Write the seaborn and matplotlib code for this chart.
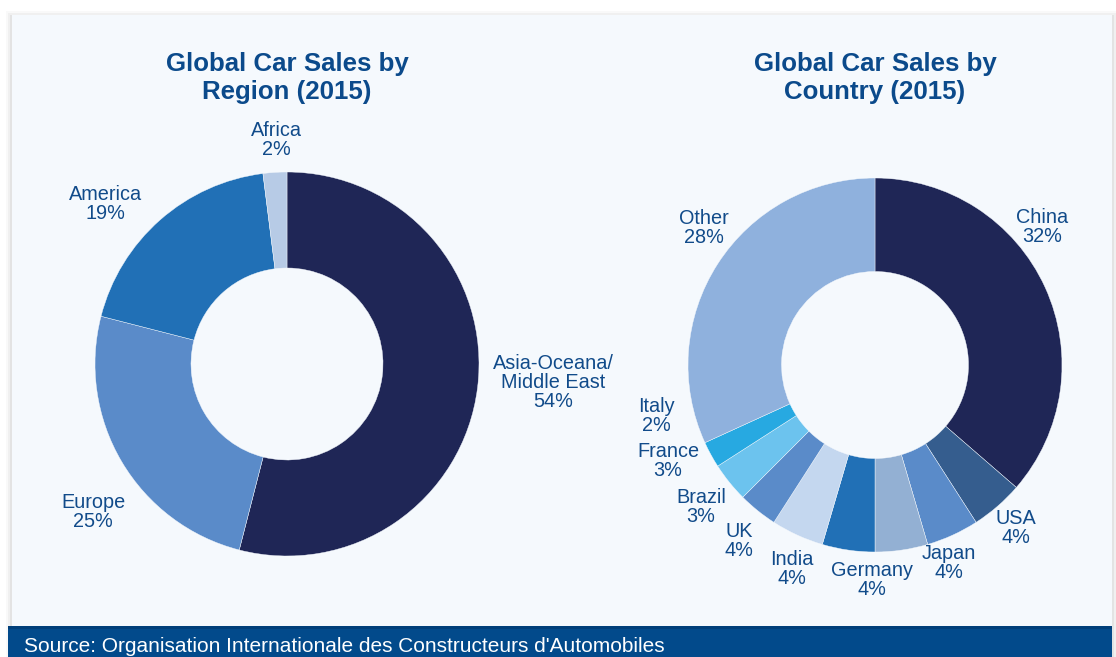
import numpy as np
import matplotlib
matplotlib.use("Agg")
import matplotlib.pyplot as plt
import seaborn as sns
from matplotlib.patches import Rectangle

# ---- data -------------------------------------------------------------
region_names = ["Asia-Oceana/\nMiddle East", "Europe", "America", "Africa"]
region_share = [54, 25, 19, 2]

country_names = ["China", "USA", "Japan", "Germany", "India", "UK",
                 "Brazil", "France", "Italy", "Other"]
country_share = [32, 4, 4, 4, 4, 4, 3, 3, 2, 28]

region_title = "Global Car Sales by\nRegion (2015)"
country_title = "Global Car Sales by\nCountry (2015)"
source_note = "Source: Organisation Internationale des Constructeurs d'Automobiles"

# ---- styling ----------------------------------------------------------
region_colors = ["#1f2656", "#5a8bc9", "#2170b6", "#b7cbe6"]
country_colors = ["#1f2656", "#355d8e", "#5a8bc9", "#93b0d3", "#2170b6",
                  "#c4d7ef", "#5a8bc9", "#6cc3ee", "#27a9e1", "#8fb1dd"]
# (radial distance, clockwise angle shift in degrees) for each label
region_label_pos = [(1.39, -3.3), (1.27, -6.7), (1.26, -7.1), (1.17, 0.8)]
country_label_pos = [(1.16, -15.0), (1.15, 0.0), (1.13, 4.0), (1.15, 9.0),
                     (1.18, 14.0), (1.19, 13.0), (1.20, 12.0), (1.22, 14.0),
                     (1.20, 15.5), (1.17, 6.0)]

PANEL = "#f5f9fd"
TITLE_C = "#0b4a8b"
LABEL_C = "#114b8a"
BAND_C = "#024a8b"

W, H = 1116, 657

sns.set_theme(style="white")
plt.rcParams["font.family"] = ["Liberation Sans", "DejaVu Sans"]

fig = plt.figure(figsize=(W / 100, H / 100), dpi=100)
fig.patch.set_facecolor("white")


def fbox(x0, y0, x1, y1):
    """pixel box (top-left origin) -> figure fraction rect"""
    return (x0 / W, 1 - y1 / H, (x1 - x0) / W, (y1 - y0) / H)


def add_rect(x0, y0, x1, y1, z=-10, **kw):
    l, b, w, h = fbox(x0, y0, x1, y1)
    fig.add_artist(Rectangle((l, b), w, h, transform=fig.transFigure,
                             linewidth=0, zorder=z, **kw))


# soft drop shadow around the panel, then the panel and the source band
for k, a in zip([6, 4, 2], [0.025, 0.035, 0.05]):
    add_rect(12 - k, 15 - k + 2, 1112 + k, 657, facecolor="black", alpha=a)
add_rect(12, 15, 1112, 626, facecolor=PANEL)
add_rect(8, 626, 1112, 657, facecolor=BAND_C)
add_rect(8, 626, 1112, 629, facecolor="#003f7a")

fig.text(24 / W, 1 - 646 / H, source_note, color="white", fontsize=15,
         ha="left", va="center")


def donut(cx, cy, R, shares, names, colors, label_pos, title):
    ax = fig.add_axes(fbox(cx - R, cy - R, cx + R, cy + R))
    ax.set_zorder(5)
    wedges, _ = ax.pie(shares, colors=colors, startangle=90, counterclock=False,
                       radius=1.0,
                       wedgeprops=dict(width=0.5, edgecolor=PANEL, linewidth=0.3))
    ax.set_xlim(-1, 1)
    ax.set_ylim(-1, 1)
    ax.set_aspect("equal")
    ax.axis("off")
    for w, name, val, (dist, shift) in zip(wedges, names, shares, label_pos):
        mid = np.deg2rad((w.theta1 + w.theta2) / 2 - shift)
        ax.text(dist * np.cos(mid), dist * np.sin(mid), f"{name}\n{val}%",
                ha="center", va="center", color=LABEL_C, fontsize=14.3,
                linespacing=1.0, clip_on=False)
    fig.text(cx / W, 1 - 78 / H, title, ha="center", va="center",
             color=TITLE_C, fontsize=18.6, fontweight="bold", linespacing=1.25)
    return ax


donut(287, 364, 192, region_share, region_names, region_colors,
      region_label_pos, region_title)
donut(875, 365, 187, country_share, country_names, country_colors,
      country_label_pos, country_title)

fig.savefig("out.png", dpi=100, facecolor=fig.get_facecolor())
